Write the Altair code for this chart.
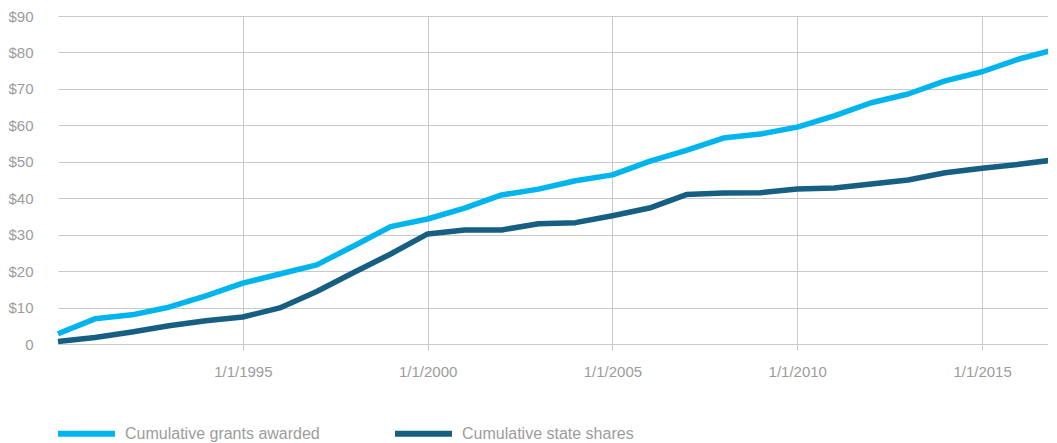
import altair as alt
import pandas as pd

years = list(range(1990, 2018))
grants = [2.8, 6.9, 8.0, 10.1, 13.2, 16.7, 19.2, 21.7, 26.9, 32.2,
          34.3, 37.3, 40.9, 42.5, 44.8, 46.4, 50.1, 53.1, 56.5, 57.6,
          59.5, 62.6, 66.2, 68.6, 72.2, 74.7, 78.2, 80.9]
state = [0.7, 1.8, 3.3, 5.0, 6.4, 7.4, 9.9, 14.4, 19.6, 24.7,
         30.2, 31.3, 31.3, 33.0, 33.3, 35.2, 37.3, 41.0, 41.4, 41.5,
         42.5, 42.8, 43.9, 45.0, 47.0, 48.2, 49.3, 50.6]
series_names = ["Cumulative grants awarded", "Cumulative state shares"]
series_colors = ["#00b4ee", "#175f82"]
x_ticks = [1995, 2000, 2005, 2010, 2015]
y_ticks = [0, 10, 20, 30, 40, 50, 60, 70, 80, 90]

df = pd.concat([
    pd.DataFrame({"year": years, "value": grants, "series": series_names[0]}),
    pd.DataFrame({"year": years, "value": state, "series": series_names[1]}),
])

FONT = "Liberation Sans"
GRAY = "#9c9c9c"
GRID = "#c9c9c9"

chart = alt.Chart(df).mark_line(strokeWidth=5.5, strokeJoin="round").encode(
    x=alt.X("year:Q",
            scale=alt.Scale(domain=[1990, 2017], nice=False, zero=False),
            axis=alt.Axis(values=x_ticks, labelExpr="'1/1/' + datum.value",
                          title=None, grid=True, gridColor=GRID, gridWidth=1,
                          domain=False, ticks=True, tickSize=6, tickColor=GRID,
                          labelPadding=14, labelFont=FONT, labelFontSize=15,
                          labelColor=GRAY)),
    y=alt.Y("value:Q",
            scale=alt.Scale(domain=[0, 90], nice=False),
            axis=alt.Axis(values=y_ticks,
                          labelExpr="datum.value == 0 ? '0' : '$' + datum.value",
                          title=None, grid=True, gridColor=GRID, gridWidth=1,
                          domain=False, ticks=False, labelPadding=25,
                          labelFont=FONT, labelFontSize=15, labelColor=GRAY)),
    color=alt.Color("series:N",
                    scale=alt.Scale(domain=series_names, range=series_colors),
                    legend=alt.Legend(title=None, orient="none", direction="horizontal",
                                      legendX=-3, legendY=386,
                                      symbolType="stroke", symbolSize=3249,
                                      symbolStrokeWidth=6, labelOffset=7,
                                      columnPadding=63, labelFont=FONT,
                                      labelFontSize=16, labelColor=GRAY,
                                      labelLimit=400)),
).properties(
    width=998, height=328,
    autosize=alt.AutoSizeParams(type="none"),
    padding={"left": 50, "top": 8, "right": -8, "bottom": 98},
).configure_view(stroke=None)

chart.save("out.html", embed_options={"renderer": "svg", "actions": False})
